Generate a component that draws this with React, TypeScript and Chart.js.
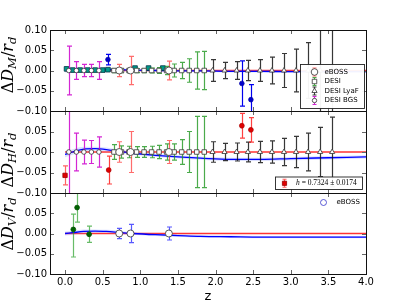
import React, { useEffect, useRef } from "react";
import { Chart, registerables } from "chart.js";
Chart.register(...registerables);

const W = 407;
const H = 305;

// ---------------- axes ----------------
const X_MIN = -0.2;
const X_MAX = 4.0;
const xTicks = [0, 0.5, 1, 1.5, 2, 2.5, 3, 3.5, 4];
const yTicksTop = [-0.1, -0.05, 0, 0.05, 0.1];
const yTicksLower = [-0.1, -0.05, 0, 0.05];

// ---------------- fiducial line ----------------
const fidZ = [0, 4];
const fidV = [0, 0];

// ---------------- best-fit model + 1-sigma band ----------------
const modelZ = [0, 0.1, 0.25, 0.4, 0.55, 0.7, 0.9, 1.2, 1.5, 1.8, 2.2, 2.6, 3.0, 3.5, 4.0];
const modelDM = [0.001, 0.002, 0.003, 0.003, 0.003, 0.002, 0.001, 0.0, -0.001, -0.001, -0.002, -0.002, -0.003, -0.003, -0.003];
const bandDM = [0.006, 0.005, 0.004, 0.004, 0.004, 0.003, 0.003, 0.003, 0.003, 0.003, 0.003, 0.003, 0.003, 0.003, 0.003];
const modelDH = [-0.006, 0.0, 0.007, 0.008, 0.006, 0.002, -0.003, -0.008, -0.012, -0.015, -0.018, -0.018, -0.016, -0.014, -0.012];
const bandDH = [0.007, 0.007, 0.006, 0.005, 0.005, 0.004, 0.004, 0.004, 0.004, 0.004, 0.004, 0.004, 0.004, 0.004, 0.004];
const modelDV = [0.0, 0.002, 0.005, 0.006, 0.005, 0.003, 0.0, -0.003, -0.005, -0.007, -0.008, -0.009, -0.009, -0.009, -0.009];
const bandDV = [0.005, 0.005, 0.005, 0.004, 0.004, 0.004, 0.003, 0.003, 0.003, 0.003, 0.003, 0.003, 0.003, 0.003, 0.003];

// ---------------- forecasts ----------------
const bgsZ = [0.05, 0.15, 0.25, 0.35, 0.45];
const bgsV = [0, 0, 0, 0, 0];
const bgsErrDM = [0.06, 0.022, 0.015, 0.015, 0.022];
const bgsErrDH = [0.3, 0.046, 0.029, 0.028, 0.037];

const desiZ = [0.65, 0.75, 0.85, 0.95, 1.05, 1.15, 1.25, 1.35, 1.45, 1.55, 1.65, 1.75, 1.85];
const desiV = [0, 0, 0, 0, 0, 0, 0, 0, 0, 0, 0, 0, 0];
const desiErrDM = [0.005, 0.005, 0.005, 0.005, 0.005, 0.006, 0.007, 0.01, 0.016, 0.02, 0.029, 0.046, 0.047];
const desiErrDH = [0.018, 0.015, 0.014, 0.013, 0.013, 0.014, 0.016, 0.02, 0.02, 0.03, 0.05, 0.087, 0.087];

const lyaZ = [1.96, 2.12, 2.28, 2.43, 2.59, 2.75, 2.91, 3.07, 3.23, 3.39, 3.55];
const lyaV = [0, 0, 0, 0, 0, 0, 0, 0, 0, 0, 0];
const lyaErrDM = [0.027, 0.02, 0.022, 0.025, 0.027, 0.033, 0.042, 0.053, 0.069, 0.15, 0.2];
const lyaErrDH = [0.025, 0.021, 0.022, 0.024, 0.026, 0.027, 0.033, 0.038, 0.046, 0.06, 0.085];

const ebossZ = [0.72, 0.87, 1.38];
const ebossV = [0, 0, 0];
const ebossErrDM = [0.015, 0.035, 0.023];
const ebossErrDH = [0.025, 0.05, 0.028];
const ebossErrDV = [0.0125, 0.0225, 0.016];

const tealZ = [0.02, 0.1, 0.2, 0.3, 0.4, 0.5, 0.57, 0.93, 1.11, 1.3];
const tealV = [0.004, 0.001, 0.001, 0.001, 0.001, 0.001, 0.002, 0.006, 0.006, 0.006];

// ---------------- measurements ----------------
const dmObsZ = [0.57, 2.35, 2.47];
const dmObsV = [0.027, -0.032, -0.072];
const dmObsErr = [0.013, 0.056, 0.037];

const h0Z = [0.0];
const h0V = [-0.057];
const h0Err = [0.023];

const dhObsZ = [0.58, 2.35, 2.47];
const dhObsV = [-0.044, 0.064, 0.054];
const dhObsErr = [0.034, 0.03, 0.03];

const dvObsZ = [0.11, 0.16, 0.32];
const dvObsV = [0.01, 0.064, -0.002];
const dvObsErrLo = [0.068, 0.036, 0.02];
const dvObsErrHi = [0.038, 0.036, 0.02];

// ---------------- labels ----------------
const legend1Labels = ["eBOSS", "DESI", "DESI LyaF", "DESI BGS"];
const legend2Label = " = 0.7324 ± 0.0174";
const legend3Label = "eBOSS";
const yLabelSubs = ["M", "H", "V"];
const xTitle = "z";

// ---------------- colours ----------------
const C_FID = "rgba(255,0,0,0.8)";
const C_MODEL = "#0000ff";
const C_BAND = "rgba(90,110,255,0.22)";
const C_EBOSS = "rgba(255,60,60,0.75)";
const C_DESI = "rgba(30,150,30,0.8)";
const C_LYA = "rgba(20,20,20,0.85)";
const C_BGS = "rgba(205,0,205,0.85)";
const C_EDGE = "#333";

const pts = (zs: number[], vs: number[]) => zs.map((z, i) => ({ x: z, y: vs[i] }));
const add = (a: number[], b: number[], s: number) => a.map((v, i) => v + s * b[i]);

function lineDs(zs: number[], vs: number[], color: string, width: number, order: number, extra: any = {}) {
  return {
    data: pts(zs, vs),
    borderColor: color,
    borderWidth: width,
    pointRadius: 0,
    fill: false,
    order,
    cubicInterpolationMode: "monotone",
    ...extra,
  };
}

function markerDs(
  zs: number[], vs: number[], style: string, r: number, bg: string, edge: string, order: number,
  errLo?: number[], errHi?: number[], errColor?: string
) {
  return {
    data: pts(zs, vs),
    showLine: false,
    pointStyle: style,
    pointRadius: r,
    pointBackgroundColor: bg,
    pointBorderColor: edge,
    pointBorderWidth: 0.8,
    order,
    errLo,
    errHi,
    errColor,
  };
}

function bandDs(model: number[], band: number[]) {
  return [
    lineDs(modelZ, add(model, band, 1), "rgba(0,0,0,0)", 0, 29),
    lineDs(modelZ, add(model, band, -1), "rgba(0,0,0,0)", 0, 28, { fill: "-1", backgroundColor: C_BAND }),
  ];
}

const errorBarPlugin = {
  id: "errbars",
  beforeDatasetDraw(chart: any, args: any) {
    const ds = chart.data.datasets[args.index];
    if (!ds.errLo) return;
    const xs = chart.scales.x;
    const ys = chart.scales.y;
    const a = chart.chartArea;
    const ctx: CanvasRenderingContext2D = chart.ctx;
    ctx.save();
    ctx.beginPath();
    ctx.rect(a.left, a.top, a.right - a.left, a.bottom - a.top);
    ctx.clip();
    ctx.strokeStyle = ds.errColor;
    ctx.lineWidth = 1.2;
    const cap = 2.5;
    ds.data.forEach((p: any, i: number) => {
      const x = Math.round(xs.getPixelForValue(p.x)) + 0.5;
      const y1 = ys.getPixelForValue(p.y - ds.errLo[i]);
      const y2 = ys.getPixelForValue(p.y + ds.errHi[i]);
      ctx.beginPath();
      ctx.moveTo(x, y1);
      ctx.lineTo(x, y2);
      ctx.moveTo(x - cap, y1);
      ctx.lineTo(x + cap, y1);
      ctx.moveTo(x - cap, y2);
      ctx.lineTo(x + cap, y2);
      ctx.stroke();
    });
    ctx.restore();
  },
};

function drawShape(ctx: CanvasRenderingContext2D, shape: string, x: number, y: number, r: number, fill: string, edge: string) {
  ctx.beginPath();
  if (shape === "circle") ctx.arc(x, y, r, 0, Math.PI * 2);
  else if (shape === "rect") {
    const s = r * Math.SQRT1_2;
    ctx.rect(x - s, y - s, 2 * s, 2 * s);
  } else if (shape === "triangle") {
    ctx.moveTo(x, y - r);
    ctx.lineTo(x + r * 0.866, y + r * 0.5);
    ctx.lineTo(x - r * 0.866, y + r * 0.5);
    ctx.closePath();
  }
  ctx.fillStyle = fill;
  ctx.fill();
  ctx.strokeStyle = edge;
  ctx.lineWidth = 0.8;
  ctx.stroke();
}

function drawLegendBar(ctx: CanvasRenderingContext2D, x: number, y: number, half: number, color: string) {
  ctx.strokeStyle = color;
  ctx.lineWidth = 1.1;
  ctx.beginPath();
  ctx.moveTo(x, y - half);
  ctx.lineTo(x, y + half);
  ctx.moveTo(x - 2, y - half);
  ctx.lineTo(x + 2, y - half);
  ctx.moveTo(x - 2, y + half);
  ctx.lineTo(x + 2, y + half);
  ctx.stroke();
}

function drawMathLabel(ctx: CanvasRenderingContext2D, cx: number, cy: number, sub: string) {
  const fs = 16;
  const ss = 11.5;
  const fam = '"DejaVu Serif", serif';
  const parts = [
    { t: "Δ", f: `${fs}px ${fam}`, dy: 0 },
    { t: "D", f: `italic ${fs}px ${fam}`, dy: 0 },
    { t: sub, f: `italic ${ss}px ${fam}`, dy: 3.5 },
    { t: "/", f: `${fs}px ${fam}`, dy: 0 },
    { t: "r", f: `italic ${fs}px ${fam}`, dy: 0 },
    { t: "d", f: `italic ${ss}px ${fam}`, dy: 3.5 },
  ];
  ctx.save();
  const ws: number[] = [];
  let total = 0;
  for (const p of parts) {
    ctx.font = p.f;
    const w = ctx.measureText(p.t).width;
    ws.push(w);
    total += w;
  }
  ctx.translate(cx, cy);
  ctx.rotate(-Math.PI / 2);
  ctx.fillStyle = "#000";
  ctx.textBaseline = "alphabetic";
  ctx.textAlign = "left";
  let x = -total / 2;
  parts.forEach((p, i) => {
    ctx.font = p.f;
    ctx.fillText(p.t, x, p.dy);
    x += ws[i];
  });
  ctx.restore();
}

function framePlugin(cfg: any) {
  return {
    id: "frame" + cfg.idx,
    afterDatasetsDraw(chart: any) {
      const ctx: CanvasRenderingContext2D = chart.ctx;
      const a = chart.chartArea;
      const xs = chart.scales.x;
      const ys = chart.scales.y;
      ctx.save();
      // inner tick marks
      ctx.strokeStyle = "#666";
      ctx.lineWidth = 1;
      ctx.beginPath();
      for (const v of xTicks) {
        const x = Math.round(xs.getPixelForValue(v)) + 0.5;
        ctx.moveTo(x, a.top);
        ctx.lineTo(x, a.top + 4);
        ctx.moveTo(x, a.bottom);
        ctx.lineTo(x, a.bottom - 4);
      }
      for (const v of yTicksTop) {
        const y = Math.round(ys.getPixelForValue(v)) + 0.5;
        ctx.moveTo(a.left, y);
        ctx.lineTo(a.left + 4, y);
        ctx.moveTo(a.right, y);
        ctx.lineTo(a.right - 4, y);
      }
      ctx.stroke();
      // frame
      ctx.strokeStyle = "#111";
      ctx.lineWidth = 1;
      ctx.strokeRect(a.left + 0.5, a.top + 0.5, a.right - a.left, a.bottom - a.top);
      // y label
      drawMathLabel(ctx, 12.5, cfg.labelY, yLabelSubs[cfg.idx]);
      // legends
      if (cfg.idx === 0) {
        const bx = 300.5, by = 64.5, bw = 64, bh = 44;
        ctx.fillStyle = "rgba(255,255,255,0.95)";
        ctx.fillRect(bx, by, bw, bh);
        ctx.strokeStyle = "#222";
        ctx.lineWidth = 0.9;
        ctx.strokeRect(bx, by, bw, bh);
        const rows = [72, 81.5, 91, 100.5];
        const spec = [
          { c: C_EBOSS, s: "circle", r: 3.3 },
          { c: C_DESI, s: "rect", r: 3.2 },
          { c: C_LYA, s: "triangle", r: 3 },
          { c: C_BGS, s: "circle", r: 2.2 },
        ];
        spec.forEach((sp, i) => {
          drawLegendBar(ctx, 314.5, rows[i], 4, sp.c);
          drawShape(ctx, sp.s, 314.5, rows[i], sp.r, "#fff", C_EDGE);
          ctx.fillStyle = "#000";
          ctx.font = '7px "DejaVu Sans"';
          ctx.textBaseline = "middle";
          ctx.textAlign = "left";
          ctx.fillText(legend1Labels[i], 324.5, rows[i]);
        });
      } else if (cfg.idx === 1) {
        const bx = 275.5, by = 177, bw = 87, bh = 12.5;
        ctx.fillStyle = "rgba(255,255,255,0.95)";
        ctx.fillRect(bx, by, bw, bh);
        ctx.strokeStyle = "#222";
        ctx.lineWidth = 0.9;
        ctx.strokeRect(bx, by, bw, bh);
        const cy = 183.3;
        drawLegendBar(ctx, 284.5, cy, 4, "rgba(255,60,60,0.8)");
        drawShape(ctx, "rect", 284.5, cy, 3, "#e00000", "#900");
        ctx.fillStyle = "#000";
        ctx.textBaseline = "middle";
        ctx.textAlign = "left";
        ctx.font = 'italic 7.5px "Liberation Serif"';
        ctx.fillText("h", 296, cy);
        const hw = ctx.measureText("h").width;
        ctx.font = '7.5px "Liberation Serif"';
        ctx.fillText(legend2Label, 296 + hw, cy);
      } else {
        drawShape(ctx, "circle", 323.5, 202.5, 3, "#fff", "#3333cc");
        ctx.fillStyle = "#000";
        ctx.font = '7px "DejaVu Sans"';
        ctx.textBaseline = "middle";
        ctx.textAlign = "left";
        ctx.fillText(legend3Label, 336.5, 202.5);
      }
      ctx.restore();
    },
  };
}

const fmtY = (v: number) => {
  if (Math.abs(v) < 1e-9) return "0.00";
  return (v < 0 ? "\u2212" : "") + Math.abs(v).toFixed(2);
};

function buildPanel(canvas: HTMLCanvasElement, cfg: any) {
  const xScale: any = {
    type: "linear",
    min: X_MIN,
    max: X_MAX,
    display: cfg.showX,
    afterBuildTicks: (s: any) => {
      s.ticks = xTicks.map((v) => ({ value: v }));
    },
    grid: { display: false, drawTicks: false },
    border: { display: false },
    ticks: {
      color: "#000",
      font: { family: '"DejaVu Sans"', size: 10 },
      padding: 2,
      maxRotation: 0,
      autoSkip: false,
      callback: (v: any) => Number(v).toFixed(1),
    },
    title: {
      display: true,
      text: xTitle,
      color: "#000",
      font: { family: '"DejaVu Sans"', size: 13 },
      padding: { top: 0, bottom: 1 },
    },
  };
  if (cfg.showX) xScale.afterFit = (s: any) => { s.height = H - cfg.bottom; };
  return new Chart(canvas, {
    type: "line",
    data: { datasets: cfg.datasets },
    options: {
      animation: false,
      responsive: false,
      devicePixelRatio: 1,
      events: [],
      layout: {
        padding: { left: 0, right: W - 366, top: cfg.top, bottom: cfg.showX ? 0 : H - cfg.bottom },
      },
      plugins: { legend: { display: false }, tooltip: { enabled: false } },
      scales: {
        x: xScale,
        y: {
          type: "linear",
          min: -0.1,
          max: 0.1,
          afterBuildTicks: (s: any) => {
            s.ticks = cfg.yTicks.map((v: number) => ({ value: v }));
          },
          afterFit: (s: any) => { s.width = 50; },
          grid: { display: false, drawTicks: false },
          border: { display: false },
          ticks: {
            color: "#000",
            font: { family: '"DejaVu Sans"', size: 10 },
            padding: 3,
            autoSkip: false,
            callback: (v: any) => fmtY(Number(v)),
          },
        },
      },
    } as any,
    plugins: [errorBarPlugin, framePlugin(cfg)],
  } as any);
}

const panel1 = {
  idx: 0, top: 30, bottom: 111, showX: false, yTicks: yTicksTop, labelY: 65,
  datasets: [
    lineDs(fidZ, fidV, C_FID, 1.5, 30),
    ...bandDs(modelDM, bandDM),
    lineDs(modelZ, modelDM, C_MODEL, 1.3, 27),
    markerDs(tealZ, tealV, "rect", 3.3, "#009a8a", "#034", 12),
    markerDs(lyaZ, lyaV, "triangle", 3, "#fff", C_EDGE, 11, lyaErrDM, lyaErrDM, C_LYA),
    markerDs(desiZ, desiV, "rect", 3.2, "#fff", C_EDGE, 10, desiErrDM, desiErrDM, C_DESI),
    markerDs(bgsZ, bgsV, "circle", 2.3, "#fff", C_EDGE, 9, bgsErrDM, bgsErrDM, C_BGS),
    markerDs(ebossZ, ebossV, "circle", 3.5, "#fff", C_EDGE, 8, ebossErrDM, ebossErrDM, C_EBOSS),
    markerDs(dmObsZ, dmObsV, "circle", 2.3, "#0000cc", "#0000aa", 1, dmObsErr, dmObsErr, "#0000ee"),
  ],
};

const panel2 = {
  idx: 1, top: 111, bottom: 193, showX: false, yTicks: yTicksLower, labelY: 160,
  datasets: [
    lineDs(fidZ, fidV, C_FID, 1.5, 30),
    ...bandDs(modelDH, bandDH),
    lineDs(modelZ, modelDH, C_MODEL, 1.3, 27),
    markerDs(lyaZ, lyaV, "triangle", 3, "#fff", C_EDGE, 11, lyaErrDH, lyaErrDH, C_LYA),
    markerDs(desiZ, desiV, "rect", 3.2, "#fff", C_EDGE, 10, desiErrDH, desiErrDH, C_DESI),
    markerDs(bgsZ, bgsV, "circle", 2.3, "#fff", C_EDGE, 9, bgsErrDH, bgsErrDH, C_BGS),
    markerDs(ebossZ, ebossV, "circle", 3.5, "#fff", C_EDGE, 8, ebossErrDH, ebossErrDH, C_EBOSS),
    markerDs(dhObsZ, dhObsV, "circle", 2.4, "#e00000", "#b00000", 1, dhObsErr, dhObsErr, "rgba(255,30,30,0.85)"),
    markerDs(h0Z, h0V, "rect", 3.1, "#e00000", "#900", 0, h0Err, h0Err, "rgba(255,60,60,0.8)"),
  ],
};

const panel3 = {
  idx: 2, top: 193, bottom: 274, showX: true, yTicks: yTicksLower, labelY: 224,
  datasets: [
    lineDs(fidZ, fidV, C_FID, 1.5, 30),
    ...bandDs(modelDV, bandDV),
    lineDs(modelZ, modelDV, C_MODEL, 1.3, 27),
    markerDs(ebossZ, ebossV, "circle", 3.5, "#fff", C_EDGE, 8, ebossErrDV, ebossErrDV, "rgba(60,60,255,0.85)"),
    markerDs(dvObsZ, dvObsV, "circle", 2.4, "#006400", "#004d00", 1, dvObsErrLo, dvObsErrHi, "rgba(40,160,40,0.7)"),
  ],
};

export default function App() {
  const r1 = useRef<HTMLCanvasElement>(null);
  const r2 = useRef<HTMLCanvasElement>(null);
  const r3 = useRef<HTMLCanvasElement>(null);
  useEffect(() => {
    const charts = [
      buildPanel(r1.current!, panel1),
      buildPanel(r2.current!, panel2),
      buildPanel(r3.current!, panel3),
    ];
    return () => charts.forEach((c) => c.destroy());
  }, []);
  const cs: React.CSSProperties = { position: "absolute", left: 0, top: 0, width: W, height: H };
  return (
    <div style={{ position: "absolute", left: 0, top: 0, width: W, height: H, background: "#fff", overflow: "hidden" }}>
      <canvas ref={r1} width={W} height={H} style={cs} />
      <canvas ref={r2} width={W} height={H} style={cs} />
      <canvas ref={r3} width={W} height={H} style={cs} />
    </div>
  );
}
